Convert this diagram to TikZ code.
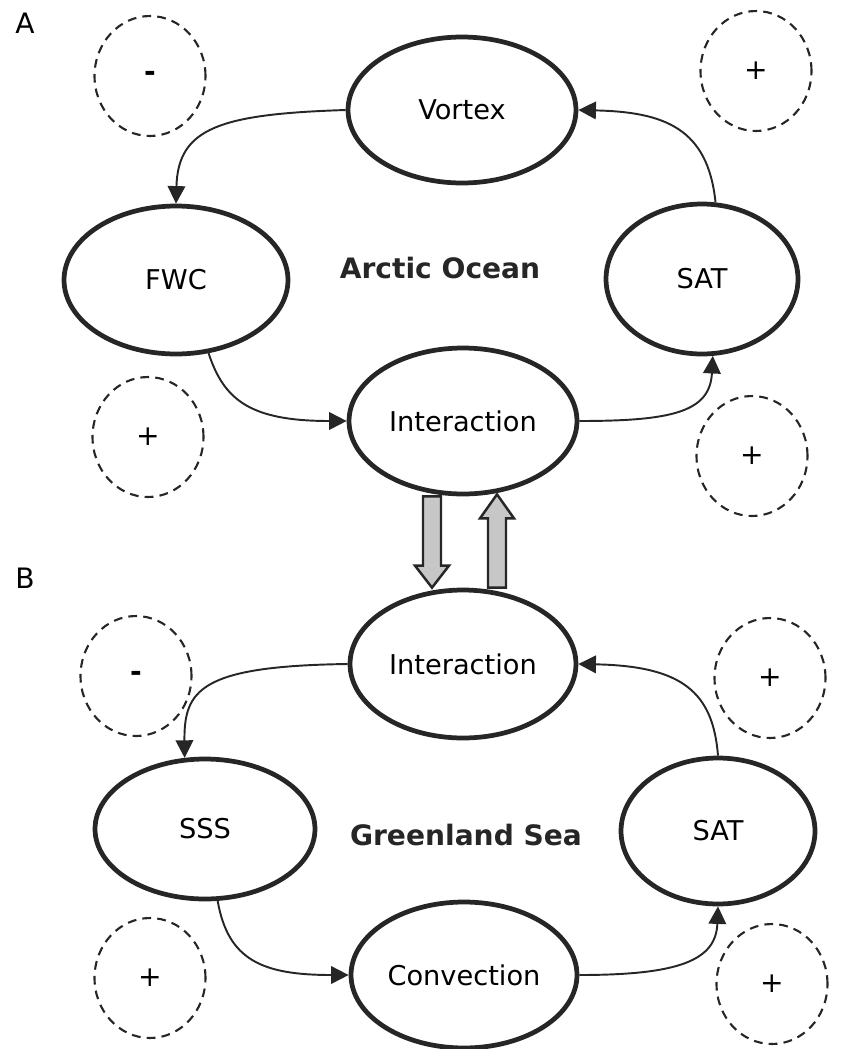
\documentclass[tikz,border=0pt]{standalone}
\usepackage{fontspec}
\setmainfont{DejaVu Sans}
\usetikzlibrary{shapes.geometric,arrows.meta,calc}

\begin{document}
\begin{tikzpicture}[x=0.02cm,y=-0.02cm,
  bubble/.style={draw=black!85, line width=2.7pt, ellipse, inner sep=0pt, font=\fontsize{15.5}{18}\selectfont},
  sign/.style={draw=black!85, dash pattern=on 5pt off 3.5pt, line width=1.2pt, ellipse, minimum width=2.22cm, minimum height=2.4cm, inner sep=0pt, font=\fontsize{16}{18}\selectfont},
  flow/.style={draw=black!85, line width=1.1pt, -{Triangle[length=10pt,width=10pt]}},
  fat/.style={draw=black!85, line width=1.4pt, fill=black!22, line join=miter},
  panel/.style={font=\fontsize{16}{18}\selectfont},
  title/.style={font=\bfseries\fontsize{16}{18}\selectfont, text=black!85}]
\useasboundingbox (0,0) rectangle (844,1049);

% panel A: Arctic Ocean
\node[panel] (labA) at (25,23) {A};
\node[bubble, minimum width=4.56cm, minimum height=2.92cm] (vortex) at (462,110) {Vortex};
\node[bubble, minimum width=4.48cm, minimum height=2.96cm] (fwc) at (176,280) {FWC};
\node[bubble, minimum width=3.84cm, minimum height=3.0cm] (satA) at (702,279) {SAT};
\node[bubble, minimum width=4.56cm, minimum height=2.92cm] (intA) at (463,421) {Interaction};
\node[title] (arctic) at (440,268) {Arctic Ocean};
\node[sign] (sA1) at (150,76) {\textbf{-}};
\node[sign] (sA2) at (756,71) {+};
\node[sign] (sA3) at (148,437) {+};
\node[sign] (sA4) at (752,456) {+};

\draw[flow] (vortex.west) .. controls (220,114) and (178,128) .. (fwc.north);
\draw[flow] (fwc.-66) .. controls (224,400) and (250,421) .. (intA.west);
\draw[flow] (intA.east) .. controls (672,421) and (710,412) .. (satA.-82);
\draw[flow] (satA.80) .. controls (708,128) and (664,112) .. (vortex.east);

% panel B: Greenland Sea
\node[panel] (labB) at (25,578) {B};
\node[bubble, minimum width=4.52cm, minimum height=2.96cm] (intB) at (463,664) {Interaction};
\node[bubble, minimum width=4.4cm, minimum height=2.8cm] (sss) at (205,829) {SSS};
\node[bubble, minimum width=3.88cm, minimum height=2.92cm] (satB) at (718,831) {SAT};
\node[bubble, minimum width=4.52cm, minimum height=2.92cm] (conv) at (464,975) {Convection};
\node[title] (greenland) at (466,835) {Greenland Sea};
\node[sign] (sB1) at (136,676) {\textbf{-}};
\node[sign] (sB2) at (770,678) {+};
\node[sign] (sB3) at (150,978) {+};
\node[sign] (sB4) at (772,984) {+};

\draw[flow] (intB.west) .. controls (200,666) and (184,690) .. (sss.106);
\draw[flow] (sss.-80) .. controls (228,960) and (262,975) .. (conv.west);
\draw[flow] (conv.east) .. controls (680,975) and (716,960) .. (satB.south);
\draw[flow] (satB.north) .. controls (713,692) and (682,666) .. (intB.east);

% exchange between the two basins
\coordinate (dtop) at ($(intA.south)+(-31,0)$);
\coordinate (dbot) at ($(intB.north)+(-31,0)$);
\coordinate (ubot) at ($(intB.north)+(34,0)$);
\coordinate (utop) at ($(intA.south)+(34,-2)$);
\draw[fat] ($(dtop)+(-9,0)$) -- ($(dbot)+(-9,-22)$) -- ($(dbot)+(-17,-22)$) -- (dbot)
  -- ($(dbot)+(17,-22)$) -- ($(dbot)+(9,-22)$) -- ($(dtop)+(9,0)$) -- cycle;
\draw[fat] ($(ubot)+(-9,0)$) -- ($(utop)+(-9,24)$) -- ($(utop)+(-17,24)$) -- (utop)
  -- ($(utop)+(17,24)$) -- ($(utop)+(9,24)$) -- ($(ubot)+(9,0)$) -- cycle;
\end{tikzpicture}
\end{document}
